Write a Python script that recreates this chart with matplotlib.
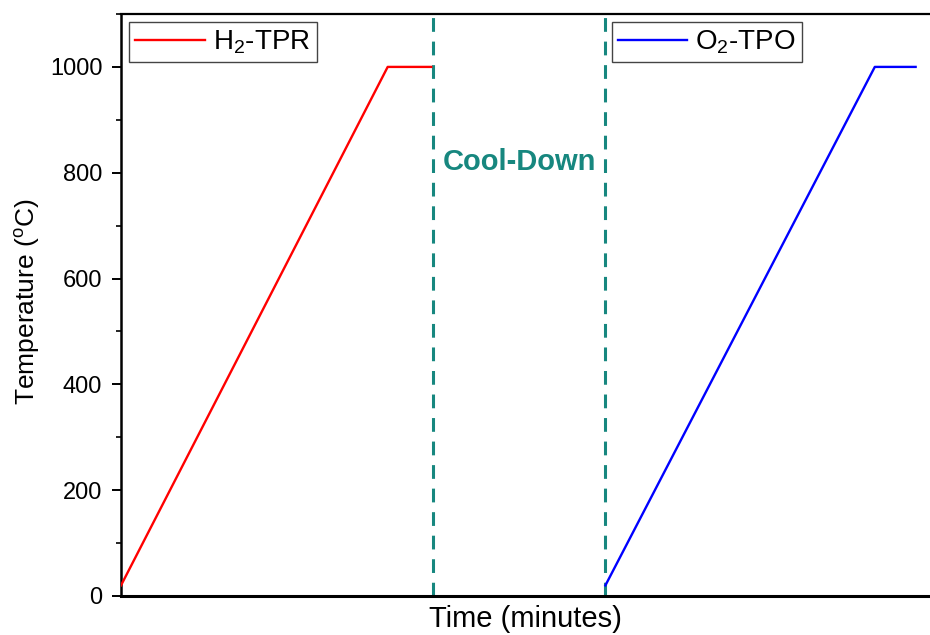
import matplotlib

matplotlib.use("Agg")
import matplotlib.pyplot as plt
from matplotlib.ticker import MultipleLocator

# time axis in minutes (no tick labels on the original)
tpr_time = [0, 98, 114]
tpr_temp = [20, 1000, 1000]
tpo_time = [178, 277, 292]
tpo_temp = [20, 1000, 1000]
cool_down = [114.5, 178]

TEAL = "#17877f"

plt.rcParams.update(
    {
        "font.family": "Liberation Sans",
        "mathtext.fontset": "custom",
        "mathtext.rm": "Liberation Sans",
        "mathtext.it": "Liberation Sans",
    }
)

fig = plt.figure(figsize=(9.3, 6.35), dpi=100)
ax = fig.add_axes([121 / 930, 39 / 635, 830 / 930, 582 / 635])

ax.axvline(cool_down[0], color=TEAL, lw=2.2, ls=(0, (4.5, 3.2)), zorder=1)
ax.axvline(cool_down[1], color=TEAL, lw=2.2, ls=(0, (4.5, 3.2)), zorder=1)

(l1,) = ax.plot(tpr_time, tpr_temp, color="#ff0000", lw=1.7, zorder=3)
(l2,) = ax.plot(tpo_time, tpo_temp, color="#0000ff", lw=1.7, zorder=3)

ax.text(sum(cool_down) / 2, 820, "Cool-Down", color=TEAL, fontsize=21,
        fontweight="bold", ha="center", va="center")

leg_kw = dict(fontsize=20, frameon=True, fancybox=False, edgecolor="#444444",
              framealpha=1, handlelength=2.5, handletextpad=0.3,
              borderpad=0.22, borderaxespad=0.3)
leg1 = ax.legend([l1], [r"H$_2$-TPR"], loc="upper left", **leg_kw)
leg1.get_frame().set_linewidth(1.0)
ax.add_artist(leg1)
leg2 = ax.legend([l2], [r"O$_2$-TPO"], loc="upper left",
                 bbox_to_anchor=(0.581, 1.0), **leg_kw)
leg2.get_frame().set_linewidth(1.0)

ax.set_xlim(0, 305)
ax.set_ylim(0, 1100)
ax.yaxis.set_major_locator(MultipleLocator(200))
ax.yaxis.set_minor_locator(MultipleLocator(100))
ax.set_xticks([])
ax.tick_params(axis="y", which="major", length=6.5, width=1.4, labelsize=17, pad=7)
ax.tick_params(axis="y", which="minor", length=3.6, width=1.2)

ax.set_ylabel(r"Temperature ($^{o}$C)", fontsize=19)
ax.yaxis.set_label_coords(-0.095, 0.505)
ax.set_xlabel("Time (minutes)", fontsize=21)
ax.xaxis.set_label_coords(0.487, -0.016)
ax.xaxis.label.set_verticalalignment("top")

ax.spines["left"].set_linewidth(1.8)
ax.spines["bottom"].set_linewidth(2.2)
ax.spines["top"].set_linewidth(1.6)
ax.spines["right"].set_visible(False)

fig.savefig("out.png", dpi=100, facecolor="white")
